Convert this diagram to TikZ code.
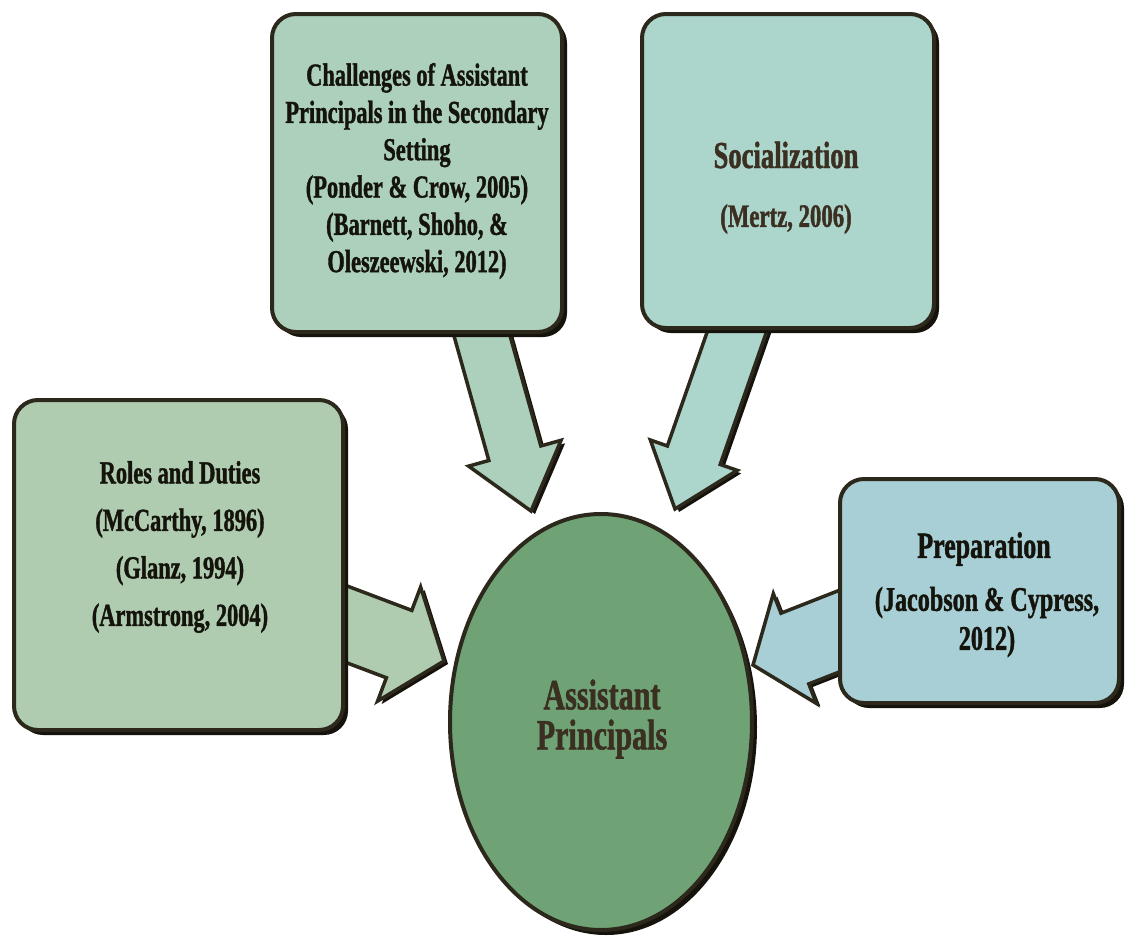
\documentclass[tikz,border=0pt]{standalone}
\usepackage{fontspec}
\setmainfont{Liberation Serif}[FakeStretch=0.7, BoldFeatures={FakeBold=1.2}]
\usetikzlibrary{calc,shapes.geometric,shadows}
\definecolor{bordercol}{RGB}{45,40,28}
\definecolor{shadowcol}{RGB}{22,19,12}
\definecolor{chalfill}{RGB}{172,208,187}
\definecolor{socfill}{RGB}{172,213,204}
\definecolor{rolefill}{RGB}{176,204,176}
\definecolor{prepfill}{RGB}{168,207,214}
\definecolor{ellfill}{RGB}{111,163,117}
\definecolor{darktxt}{RGB}{20,20,12}
\definecolor{browntxt}{RGB}{58,47,33}
% #1 style, #2 start, #3 tip, #4 shaft half width, #5 head half width, #6 head length
\newcommand\blockarrow[6]{%
  \coordinate (ba-h) at ($(#3)!#6!(#2)$);
  \draw[#1] ($(#2)!#4!90:(#3)$) -- ($(ba-h)!#4!-90:(#2)$) -- ($(ba-h)!#5!-90:(#2)$)
    -- (#3) -- ($(ba-h)!#5!90:(#2)$) -- ($(ba-h)!#4!90:(#2)$) -- ($(#2)!#4!-90:(#3)$) -- cycle;
}
\tikzset{
  boxshape/.style={rectangle, rounded corners=24pt, draw=bordercol, line width=4pt,
    drop shadow={shadow xshift=5pt, shadow yshift=-5pt, opacity=1, fill=shadowcol}},
  arrowshape/.style={draw=bordercol, line width=3.5pt, line join=miter,
    drop shadow={shadow xshift=4pt, shadow yshift=-3pt, opacity=1, fill=shadowcol}},
  txt/.style={align=center, inner sep=0pt},
}
\begin{document}
\begin{tikzpicture}[x=1pt,y=-1pt]
\useasboundingbox (0,0) rectangle (1128,938);

% arrow end points
\coordinate (a1s) at (472,300);
\coordinate (a1e) at (531,511);
\coordinate (a2s) at (748,300);
\coordinate (a2e) at (675,509);
\coordinate (a3s) at (330,618);
\coordinate (a3e) at (444,661);
\coordinate (a4s) at (860,623);
\coordinate (a4e) at (753,665);

\blockarrow{arrowshape, fill=chalfill}{a1s}{a1e}{27pt}{48pt}{60pt}
\blockarrow{arrowshape, fill=socfill}{a2s}{a2e}{28pt}{46pt}{57pt}
\blockarrow{arrowshape, fill=rolefill}{a3s}{a3e}{36pt}{61pt}{48pt}
\blockarrow{arrowshape, fill=prepfill}{a4s}{a4e}{38pt}{59pt}{45pt}

% boxes
\node[boxshape, fill=chalfill, minimum width=290pt, minimum height=318pt] (chal) at (417,173) {};
\node[boxshape, fill=socfill, minimum width=292pt, minimum height=314pt] (soc) at (788,171) {};
\node[boxshape, fill=rolefill, minimum width=329pt, minimum height=330pt] (roles) at (178.5,565) {};
\node[boxshape, fill=prepfill, minimum width=279pt, minimum height=224pt] (prep) at (979.5,591) {};
\node[ellipse, draw=bordercol, line width=4pt, fill=ellfill, minimum width=302pt, minimum height=416pt,
  drop shadow={shadow xshift=5pt, shadow yshift=-5pt, opacity=1, fill=shadowcol}] (ap) at (601,722) {};

% texts
\node[txt, text=darktxt, font=\bfseries\fontsize{32}{37.3}\selectfont] (chalt) at (417,171)
  {Challenges of Assistant\\Principals in the Secondary\\Setting\\(Ponder \& Crow, 2005)\\(Barnett, Shoho, \&\\Oleszeewski, 2012)};
\node[txt, text=browntxt, font=\bfseries\fontsize{38}{40}\selectfont] (soct) at (786,155) {Socialization};
\node[txt, text=browntxt, font=\bfseries\fontsize{32.5}{36}\selectfont] (socc) at (786,219) {(Mertz, 2006)};
\node[txt, text=darktxt, font=\bfseries\fontsize{32}{47.5}\selectfont] (rolest) at (180,547)
  {Roles and Duties\\(McCarthy, 1896)\\(Glanz, 1994)\\(Armstrong, 2004)};
\node[txt, text=darktxt, font=\bfseries\fontsize{37}{40}\selectfont] (prept) at (984,549) {Preparation};
\node[txt, text=darktxt, font=\bfseries\fontsize{34.5}{39}\selectfont] (prepc) at (987,622) {(Jacobson \& Cypress,\\2012)};
\node[txt, text=browntxt, font=\bfseries\fontsize{43}{40}\selectfont] (apt) at (602,719) {Assistant\\Principals};
\end{tikzpicture}
\end{document}
